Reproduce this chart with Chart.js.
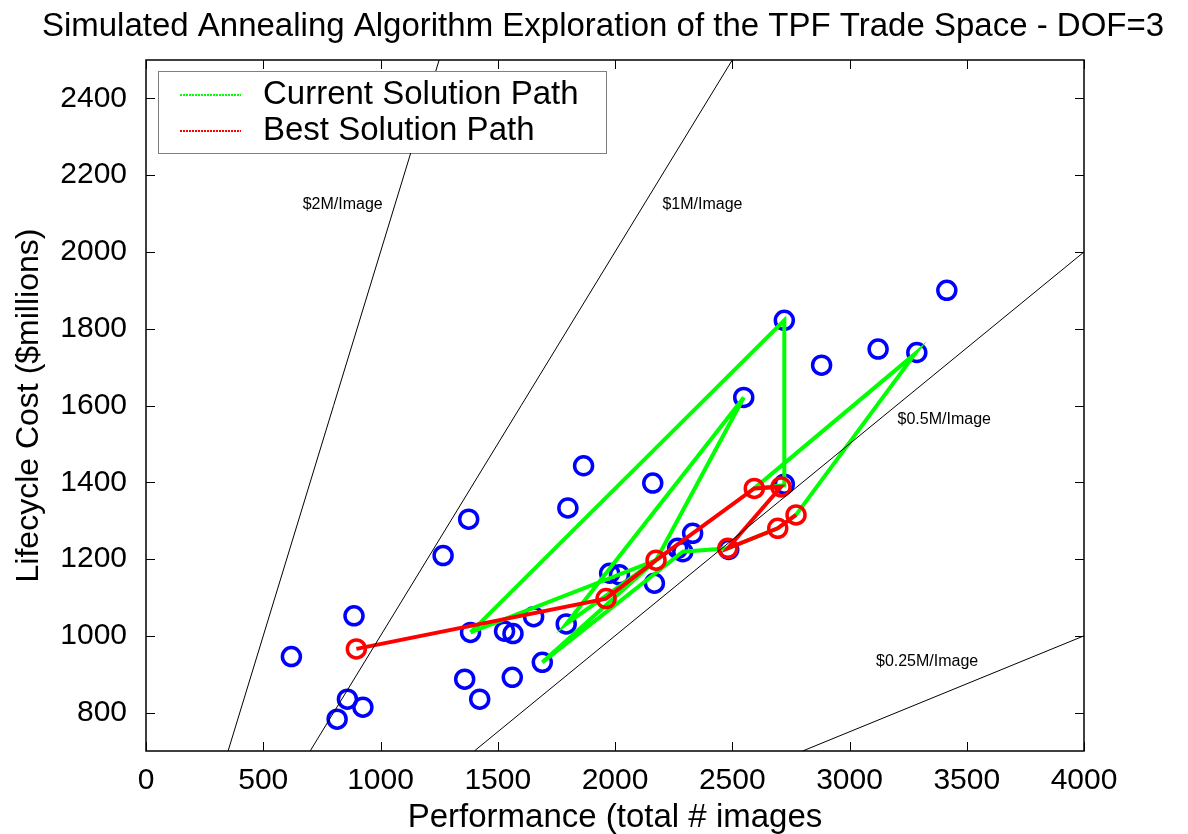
<!DOCTYPE html>
<html>
<head>
<meta charset="utf-8">
<script src="https://cdn.jsdelivr.net/npm/chart.js@4"></script>
<style>
  body { margin: 0; background: #fff; }
  canvas { display: block; }
</style>
</head>
<body>
<canvas id="saChart" width="1188" height="834"></canvas>
<script>
// all evaluated designs (blue circles)
const designX = [620, 887, 859, 925, 815, 1267, 1376, 1384, 1359, 1423, 1562, 1529, 1565, 1653, 1690, 1792,
                 1799, 1866, 1977, 2019, 2161, 2168, 2289, 2267, 2331, 2485, 2549, 2722, 2722, 2881, 3122, 3287, 3415];
const designY = [946, 1052, 835, 814, 783, 1209, 1304, 1009, 887, 835, 892, 1012, 1006, 1050, 931, 1031,
                 1333, 1443, 1163, 1159, 1398, 1137, 1219, 1228, 1267, 1225, 1621, 1822, 1395, 1705, 1747, 1738, 1900];

// current solution path (green)
const currentX = [1384, 2722, 2722, 2594, 3280, 2772, 2694, 2481, 2289, 1690, 2175, 2549, 1792, 2175, 1384];
const currentY = [1009, 1822, 1392, 1384, 1735, 1315, 1280, 1228, 1219, 931, 1197, 1621, 1031, 1197, 1009];

// best solution path (red)
const bestX = [897, 1962, 2175, 2594, 2708, 2481, 2694, 2772];
const bestY = [966, 1097, 1197, 1384, 1388, 1228, 1280, 1315];

// cost per image guide lines
const guideNames = ['$2M/Image', '$1M/Image', '$0.5M/Image', '$0.25M/Image'];
const guideRate = [2, 1, 0.5, 0.25];
const guideLabelX = [839, 2373, 3404, 3331];
const guideLabelY = [2124, 2124, 1562, 932];

const xTicks = [0, 500, 1000, 1500, 2000, 2500, 3000, 3500, 4000];
const yTicks = [800, 1000, 1200, 1400, 1600, 1800, 2000, 2200, 2400];

const FONT = 'Arial, "Liberation Sans", sans-serif';

const toPts = (xs, ys) => xs.map((x, i) => ({ x: x, y: ys[i] }));

const guideSets = guideRate.map(r => ({
    data: [{ x: 700 / r, y: 700 }, { x: 2500 / r, y: 2500 }],
    showLine: true,
    borderColor: '#000',
    borderWidth: 1,
    pointRadius: 0,
    order: 0
}));

const overlay = {
    id: 'overlay',
    afterDraw(chart) {
        const { ctx, chartArea: a, scales: { x, y } } = chart;
        ctx.save();

        // frame + inward ticks
        ctx.strokeStyle = '#000';
        ctx.lineWidth = 1.5;
        ctx.strokeRect(a.left, a.top, a.right - a.left, a.bottom - a.top);
        ctx.lineWidth = 1;
        ctx.beginPath();
        xTicks.forEach(v => {
            const px = Math.round(x.getPixelForValue(v)) + 0.5;
            ctx.moveTo(px, a.bottom); ctx.lineTo(px, a.bottom - 9);
            ctx.moveTo(px, a.top); ctx.lineTo(px, a.top + 9);
        });
        yTicks.forEach(v => {
            const py = Math.round(y.getPixelForValue(v)) + 0.5;
            ctx.moveTo(a.left, py); ctx.lineTo(a.left + 9, py);
            ctx.moveTo(a.right, py); ctx.lineTo(a.right - 9, py);
        });
        ctx.stroke();

        // guide labels
        ctx.fillStyle = '#000';
        ctx.font = '16px ' + FONT;
        ctx.textAlign = 'center';
        ctx.textBaseline = 'middle';
        guideNames.forEach((t, i) => {
            ctx.fillText(t, x.getPixelForValue(guideLabelX[i]), y.getPixelForValue(guideLabelY[i]));
        });

        // legend box
        const lx = a.left + 12, ly = a.top + 11, lw = 448, lh = 82;
        ctx.fillStyle = '#fff';
        ctx.fillRect(lx, ly, lw, lh);
        ctx.setLineDash([1, 1]);
        ctx.strokeStyle = '#000';
        ctx.strokeRect(lx + 0.5, ly + 0.5, lw, lh);
        const rows = [['Current Solution Path', '#00ff00'], ['Best Solution Path', '#ff0000']];
        ctx.font = '33px ' + FONT;
        ctx.textAlign = 'left';
        rows.forEach((r, i) => {
            const ry = ly + 24 + i * 36;
            ctx.strokeStyle = r[1];
            ctx.lineWidth = 2;
            ctx.setLineDash([2, 1]);
            ctx.beginPath();
            ctx.moveTo(lx + 22, ry); ctx.lineTo(lx + 83, ry);
            ctx.stroke();
            ctx.fillStyle = '#000';
            ctx.fillText(r[0], lx + 105, ry);
        });
        ctx.setLineDash([]);

        // title
        ctx.font = '33px ' + FONT;
        ctx.textAlign = 'center';
        ctx.fillText('Simulated Annealing Algorithm Exploration of the TPF Trade Space - DOF=3', 603, 27);
        ctx.restore();
    }
};

new Chart(document.getElementById('saChart'), {
    type: 'scatter',
    data: {
        datasets: [
            ...guideSets,
            {
                data: toPts(bestX, bestY),
                showLine: true,
                borderColor: '#ff0000',
                borderWidth: 4,
                pointRadius: 9,
                pointBorderWidth: 3.5,
                pointBorderColor: '#ff0000',
                pointBackgroundColor: 'rgba(0,0,0,0)',
                order: 1
            },
            {
                data: toPts(currentX, currentY),
                showLine: true,
                borderColor: '#00ff00',
                borderWidth: 4,
                pointRadius: 0,
                order: 2
            },
            {
                data: toPts(designX, designY),
                borderColor: '#0000ff',
                backgroundColor: 'rgba(0,0,0,0)',
                pointRadius: 9,
                borderWidth: 3.5,
                order: 3
            }
        ]
    },
    options: {
        responsive: false,
        animation: false,
        devicePixelRatio: 1,
        layout: { padding: { top: 60, right: 104, left: 0, bottom: 0 } },
        plugins: { legend: { display: false }, tooltip: { enabled: false } },
        scales: {
            x: {
                type: 'linear', min: 0, max: 4000,
                afterBuildTicks: s => { s.ticks = xTicks.map(v => ({ value: v })); },
                afterFit: s => { s.height = 83; },
                grid: { display: false },
                border: { display: false },
                ticks: { color: '#000', font: { family: FONT, size: 30 }, padding: 4, maxRotation: 0,
                         callback: v => String(v) },
                title: { display: true, text: 'Performance (total # images', color: '#000',
                         font: { family: FONT, size: 33, lineHeight: 1 }, padding: { top: 0, bottom: 0 } }
            },
            y: {
                type: 'linear', min: 700, max: 2500,
                afterBuildTicks: s => { s.ticks = yTicks.map(v => ({ value: v })); },
                afterFit: s => { s.width = 146; },
                grid: { display: false },
                border: { display: false },
                ticks: { color: '#000', font: { family: FONT, size: 30 }, padding: 11,
                         callback: v => String(v) },
                title: { display: true, text: 'Lifecycle Cost ($millions)', color: '#000',
                         font: { family: FONT, size: 32 }, padding: { top: 10, bottom: 0 } }
            }
        }
    },
    plugins: [overlay]
});
</script>
</body>
</html>
